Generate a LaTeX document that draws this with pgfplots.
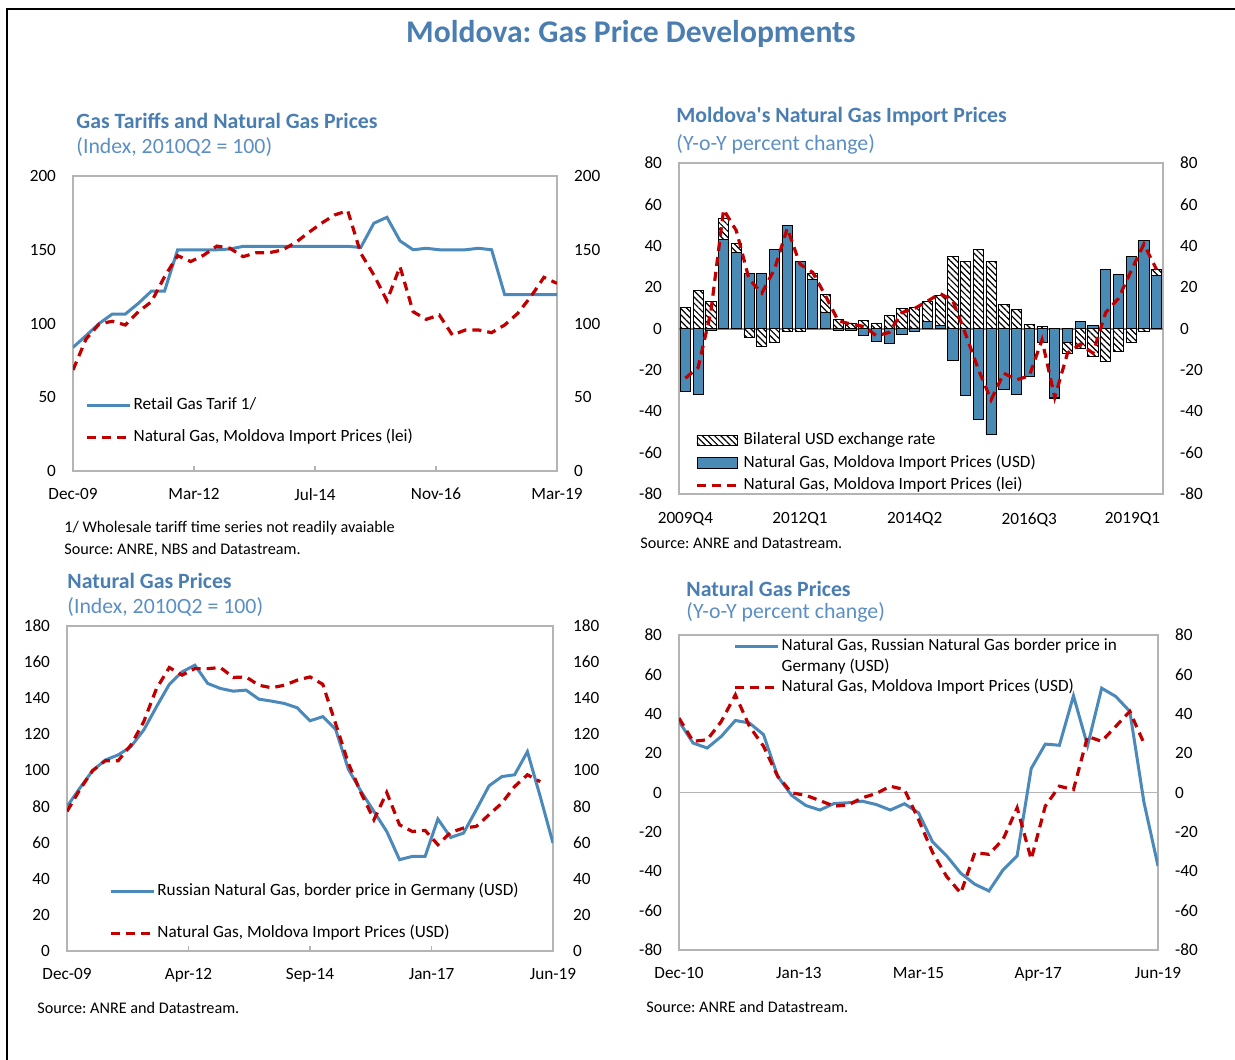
\documentclass[border=0pt]{standalone}
\usepackage{fontspec}
\setmainfont{Carlito}
\usepackage{pgfplots}
\pgfplotsset{compat=1.18}
\usetikzlibrary{patterns.meta}
\frenchspacing
\definecolor{ttl}{HTML}{4A7EB0}
\definecolor{sub}{HTML}{5B8FC4}
\definecolor{bl}{HTML}{4A89BA}
\definecolor{barbl}{HTML}{4A8BB5}
\definecolor{rd}{HTML}{C00000}
\definecolor{frm}{HTML}{B4B4B4}
\newcommand{\tf}{\fontsize{8.6}{10}\selectfont}
\newcommand{\srcf}{\fontsize{8.1}{10}\selectfont}
\newcommand{\ptf}{\fontsize{10.9}{13}\selectfont}

\pgfplotsset{
  /pgf/number format/assume math mode=true,
  base/.style={
    scale only axis, anchor=south west,
    axis line style={frm, line width=0.6pt},
    tick label style={font=\tf, text=black},
    ytick style={draw=none},
    yticklabel style={xshift=-5pt},
    xticklabel style={yshift=-5pt},
    tick align=inside, xtick pos=left, major tick length=2.5pt,
    xtick style={frm, line width=0.6pt},
    legend style={draw=none, fill=none, font=\tf, cells={anchor=west}, inner sep=0pt,
      nodes={inner sep=1pt, text height=6.2pt, text depth=1.8pt}},
  },
  rax/.style={scale only axis, anchor=south west, axis x line=none, axis y line*=right,
    y axis line style={draw=none}, ytick style={draw=none},
    tick label style={font=\tf, text=black}, yticklabel style={xshift=5pt}},
  bline/.style={bl, line width=1.5pt},
  rline/.style={rd, line width=1.6pt, dash pattern=on 4.5pt off 3pt},
  lline/.style={legend image code/.code={\draw[##1] (0pt,0pt) -- (21.5pt,0pt);}},
  hatchst/.style={draw=black, line width=0.4pt, fill=white,
    postaction={pattern={Lines[angle=-45,distance=2.2pt,line width=0.6pt]}}},
  barst/.style={draw=black, line width=0.4pt, fill=barbl},
  patchimg/.style={legend image code/.code={\draw[##1] (0pt,-2.6pt) rectangle (20pt,2.6pt);}},
}

\pgfplotstableread{
x blue hatchtot lei
0 -30.6 10.2 -24
1 -31.8 18.2 -18.9
2 -1 13 8
3 42.9 53.2 57.4
4 36.8 41.1 47.3
5 26.6 -4.4 23.9
6 26.6 -8.5 17.1
7 38.4 -6.8 28.7
8 50 -1.3 48.4
9 32.4 -1.3 31.1
10 23.5 26.6 27.1
11 7.7 16.3 15.8
12 -1 4.5 3.7
13 -0.8 2.7 2.1
14 -3.2 3.7 1
15 -6.1 2.7 -3.5
16 -7.1 6.5 -1.9
17 -2.7 9.7 7.7
18 -1.5 10.3 9.7
19 3.2 13 13.2
20 1.6 16.1 16.9
21 -15.5 34.8 13.4
22 -32.4 32.4 -2.7
23 -44 38.4 -19.7
24 -51.1 32.4 -34.5
25 -29.4 11.5 -21.6
26 -31.9 9.2 -24.8
27 -23.2 2.1 -22.9
28 -6.8 1 -5.5
29 -33.4 -33.9 -33.4
30 -6.5 -12 -11.9
31 3.2 -9.7 -7.6
32 1.3 -13.7 -11.9
33 28.4 -15.8 7.7
34 26 -11.3 14.5
35 34.8 -6.8 27.9
36 42.4 -1.3 40.8
37 25.8 28.4 28.4
}\imptable

\begin{document}
\begin{tikzpicture}
\useasboundingbox (0pt,0pt) rectangle (617.5pt,-529.5pt);
\begin{scope}[x=0.5pt,y=-0.5pt]
\draw[black, line width=1pt] (7,1070) -- (7,9) -- (1240,9);
\node[font=\fontsize{15.8}{18}\selectfont\bfseries, text=ttl] at (631,34) {Moldova: Gas Price Developments};
% panel titles
\node[anchor=west, inner sep=0pt, font=\ptf\bfseries, text=ttl] at (76,121) {Gas Tariffs and Natural Gas Prices};
\node[anchor=west, inner sep=0pt, font=\ptf, text=sub] at (76,147) {(Index, 2010Q2 = 100)};
\node[anchor=west, inner sep=0pt, font=\ptf\bfseries, text=ttl] at (676,117) {Moldova\textquotesingle s Natural Gas Import Prices};
\node[anchor=west, inner sep=0pt, font=\ptf, text=sub] at (676,144) {(Y-o-Y percent change)};
\node[anchor=west, inner sep=0pt, font=\ptf\bfseries, text=ttl] at (67,581) {Natural Gas Prices};
\node[anchor=west, inner sep=0pt, font=\ptf, text=sub] at (67,607) {(Index, 2010Q2 = 100)};
\node[anchor=west, inner sep=0pt, font=\ptf\bfseries, text=ttl] at (686,589) {Natural Gas Prices};
\node[anchor=west, inner sep=0pt, font=\ptf, text=sub] at (686,612) {(Y-o-Y percent change)};
% notes
\node[anchor=west, inner sep=0pt, font=\srcf] at (64,528) {1/ Wholesale tariff time series not readily avaiable};
\node[anchor=west, inner sep=0pt, font=\srcf] at (64,550) {Source: ANRE, NBS and Datastream.};
\node[anchor=west, inner sep=0pt, font=\srcf] at (640,543) {Source: ANRE and Datastream.};
\node[anchor=west, inner sep=0pt, font=\srcf] at (37,1008) {Source: ANRE and Datastream.};
\node[anchor=west, inner sep=0pt, font=\srcf] at (646,1007) {Source: ANRE and Datastream.};
\end{scope}

% ---------- Panel 1 ----------
\begin{axis}[base, at={(36.5pt,-235.5pt)}, width=242pt, height=147.5pt,
  xmin=0, xmax=37, ymin=0, ymax=200, ytick={0,50,...,200},
  xtick={0,9.25,18.5,27.75,37}, xticklabels={Dec-09,Mar-12,Jul-14,Nov-16,Mar-19},
  legend style={at={(0.025,0.258)}, anchor=north west, row sep=6pt}]
\addplot[bline, lline] coordinates {(0,83.8)(1,91.8)(2,100)(3,106.4)(4,106.4)(5,113.7)(6,122)(7,122)(8,150)(9,150)(10,150)(11,150)(12,150.5)(13,152.3)(14,152.3)(15,152.3)(16,152.3)(17,152.3)(18,152.3)(19,152.3)(20,152.3)(21,152.3)(22,151.6)(23,168)(24,172)(25,156)(26,150)(27,151)(28,150)(29,150)(30,150)(31,151)(32,150)(33,119.5)(34,119.5)(35,119.5)(36,119.5)(37,119.5)};
\addlegendentry{Retail Gas Tarif 1/}
\addplot[rline, lline] coordinates {(0,68.5)(1,89.5)(2,99.7)(3,101.5)(4,99)(5,108)(6,114.8)(7,131.8)(8,146)(9,142)(10,146.4)(11,152.5)(12,151)(13,145.3)(14,148)(15,148)(16,149.8)(17,154.8)(18,161.6)(19,168)(20,173.6)(21,176.5)(22,147.6)(23,132.9)(24,115.5)(25,138.5)(26,108)(27,102.8)(28,105.8)(29,92.2)(30,95.6)(31,95.6)(32,93.8)(33,99)(34,106.9)(35,118.2)(36,131.3)(37,127.2)};
\addlegendentry{Natural Gas, Moldova Import Prices (lei)}
\end{axis}
\begin{axis}[rax, at={(36.5pt,-235.5pt)}, width=242pt, height=147.5pt,
  xmin=0, xmax=37, ymin=0, ymax=200, ytick={0,50,...,200}]
\end{axis}

% ---------- Panel 2 ----------
\begin{axis}[base, at={(339.5pt,-247pt)}, width=242pt, height=165.5pt,
  xmin=-0.5, xmax=37.5, ymin=-80, ymax=80, ytick={-80,-60,...,80},
  xtick={0,9,18,27,35.1}, xticklabels={2009Q4,2012Q1,2014Q2,2016Q3,2019Q1},
  xtick style={draw=none}, xticklabel style={yshift=-0.8pt},
  extra y ticks={0}, extra y tick labels={},
  extra y tick style={grid=major, major grid style={draw=gray, line width=1pt}},
  legend style={at={(0.033,0.193)}, anchor=north west, row sep=1.2pt}]
\addlegendimage{hatchst, patchimg}
\addlegendentry{Bilateral USD exchange rate}
\addlegendimage{barst, patchimg}
\addlegendentry{Natural Gas, Moldova Import Prices (USD)}
\addlegendimage{rline, lline}
\addlegendentry{Natural Gas, Moldova Import Prices (lei)}
\addplot[ybar, bar width=0.8, bar shift=0pt, hatchst, forget plot] table[x=x, y=hatchtot] {\imptable};
\addplot[ybar, bar width=0.8, bar shift=0pt, barst, forget plot] table[x=x, y=blue] {\imptable};
\addplot[rline, forget plot] table[x=x, y=lei] {\imptable};
\end{axis}
\begin{axis}[rax, at={(339.5pt,-247pt)}, width=242pt, height=165.5pt,
  xmin=-0.5, xmax=37.5, ymin=-80, ymax=80, ytick={-80,-60,...,80}]
\end{axis}

% ---------- Panel 3 ----------
\begin{axis}[base, at={(33.5pt,-475.5pt)}, width=243pt, height=162.5pt,
  xmin=0, xmax=38, ymin=0, ymax=180, ytick={0,20,...,180},
  xtick={0,9.5,19,28.5,38}, xticklabels={Dec-09,Apr-12,Sep-14,Jan-17,Jun-19},
  legend style={at={(0.086,0.216)}, anchor=north west, row sep=11pt}]
\addplot[bline, lline] coordinates {(0,80)(1,90.2)(2,99.9)(3,105.8)(4,108.6)(5,113.2)(6,122.4)(7,135.3)(8,147.7)(9,154.6)(10,158.3)(11,148.2)(12,145.4)(13,143.9)(14,144.5)(15,139.5)(16,138.4)(17,137.1)(18,134.7)(19,127.5)(20,129.8)(21,122.8)(22,100.7)(23,88.3)(24,77.3)(25,66.2)(26,50.6)(27,52.4)(28,52.4)(29,73.1)(30,62.9)(31,65.3)(32,78.2)(33,91.5)(34,96.6)(35,97.6)(36,110.4)(37,85.6)(38,59.8)};
\addlegendentry{Russian Natural Gas, border price in Germany (USD)}
\addplot[rline, lline] coordinates {(0,77.3)(1,89.3)(2,99.9)(3,105.4)(4,105.4)(5,114.1)(6,127)(7,145.4)(8,157)(9,152.8)(10,156.4)(11,156.4)(12,157)(13,151.5)(14,151.8)(15,147.2)(16,145.8)(17,147.2)(18,150)(19,151.8)(20,147.7)(21,126)(22,104)(23,87.4)(24,72.7)(25,87.8)(26,69.9)(27,66.2)(28,66.8)(29,58.9)(30,65.7)(31,68.1)(32,69)(33,75.5)(34,81.9)(35,91.1)(36,97.6)(37,93.8)};
\addlegendentry{Natural Gas, Moldova Import Prices (USD)}
\end{axis}
\begin{axis}[rax, at={(33.5pt,-475.5pt)}, width=243pt, height=162.5pt,
  xmin=0, xmax=38, ymin=0, ymax=180, ytick={0,20,...,180}, yticklabel style={xshift=1.5pt}]
\end{axis}

% ---------- Panel 4 ----------
\begin{axis}[base, at={(339.5pt,-475pt)}, width=239.5pt, height=157.5pt,
  xmin=0, xmax=34, ymin=-80, ymax=80, ytick={-80,-60,...,80},
  xtick={0,8.5,17,25.5,34}, xticklabels={Dec-10,Jan-13,Mar-15,Apr-17,Jun-19},
  xtick style={draw=none},
  extra y ticks={0}, extra y tick labels={},
  extra y tick style={grid=major, major grid style={draw=frm, line width=0.6pt}},
  legend style={at={(0.113,0.997)}, anchor=north west, row sep=0.2pt}]
\addplot[bline, lline] coordinates {(0,36.1)(1,25.1)(2,22.6)(3,28.5)(4,36.6)(5,35.3)(6,29.4)(7,8.3)(8,-1.5)(9,-6.6)(10,-8.9)(11,-5.6)(12,-5.2)(13,-4.4)(14,-6.1)(15,-8.9)(16,-5.7)(17,-10.3)(18,-25.1)(19,-32.2)(20,-41)(21,-46.6)(22,-50)(23,-39.3)(24,-32.2)(25,12.2)(26,24.6)(27,24)(28,49.1)(29,23.8)(30,53)(31,48.8)(32,41.2)(33,-4.9)(34,-37.3)};
\addlegendentry{Natural Gas, Russian Natural Gas border price in}
\addlegendimage{empty legend}
\addlegendentry{Germany (USD)}
\addplot[rline, lline] coordinates {(0,37.8)(1,26)(2,26.8)(3,36.1)(4,49.6)(5,33.6)(6,23.5)(7,8.3)(8,-0.2)(9,-1.4)(10,-4.1)(11,-6.9)(12,-6.4)(13,-2.7)(14,-0.5)(15,3.2)(16,1.5)(17,-13.7)(18,-30.5)(19,-42.7)(20,-51.1)(21,-30.5)(22,-31.4)(23,-23.8)(24,-7.8)(25,-33.9)(26,-6.9)(27,3.2)(28,1.5)(29,28.5)(30,26)(31,33.6)(32,41.2)(33,25.1)};
\addlegendentry{Natural Gas, Moldova Import Prices (USD)}
\end{axis}
\begin{axis}[rax, at={(339.5pt,-475pt)}, width=239.5pt, height=157.5pt,
  xmin=0, xmax=34, ymin=-80, ymax=80, ytick={-80,-60,...,80}]
\end{axis}
\end{tikzpicture}
\end{document}
